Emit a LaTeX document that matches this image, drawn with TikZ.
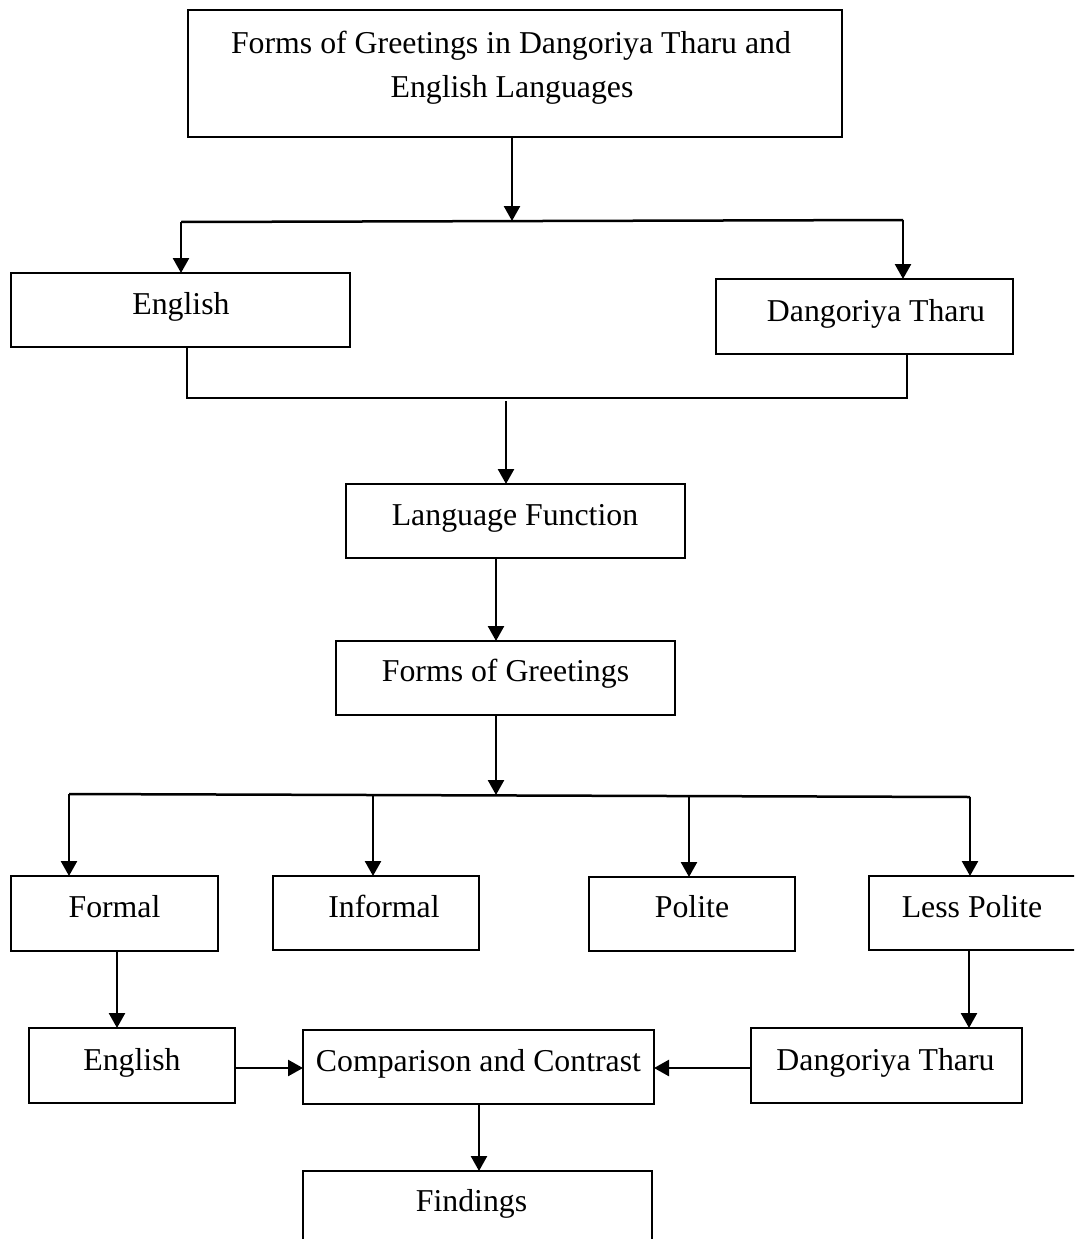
\documentclass[tikz,border=0pt]{standalone}
\usepackage{fontspec}
\setmainfont{Liberation Serif}
\usetikzlibrary{arrows.meta}
\begin{document}
\begin{tikzpicture}[x=1pt,y=-1pt,
  box/.style={draw,line width=2pt,rectangle,inner sep=0pt,outer sep=0pt},
  lbl/.style={inner sep=0pt,anchor=base,font=\fontsize{31.8}{40}\selectfont},
  conn/.style={line width=2.5pt},
  arr/.style={line width=2.5pt,-{Triangle[length=15pt,width=16pt]}}]
\useasboundingbox (0,0) rectangle (1074,1239);
\fill[white] (0,0) rectangle (1074,1239);
\clip (0,0) rectangle (1074,1239);
% boxes
\node[box,minimum width=654pt,minimum height=127pt] (title) at (515,73.5) {};
\node[box,minimum width=339pt,minimum height=74pt] (eng1) at (180.5,310) {};
\node[box,minimum width=297pt,minimum height=75pt] (dt1) at (864.5,316.5) {};
\node[box,minimum width=339pt,minimum height=74pt] (lf) at (515.5,521) {};
\node[box,minimum width=339pt,minimum height=74pt] (fog) at (505.5,678) {};
\node[box,minimum width=207pt,minimum height=75pt] (formal) at (114.5,913.5) {};
\node[box,minimum width=206pt,minimum height=74pt] (informal) at (376,913) {};
\node[box,minimum width=206pt,minimum height=74pt] (polite) at (692,914) {};
\node[box,minimum width=208pt,minimum height=74pt] (lesspol) at (973,913) {};
\node[box,minimum width=206pt,minimum height=75pt] (eng2) at (132,1065.5) {};
\node[box,minimum width=351pt,minimum height=74pt] (cc) at (478.5,1067) {};
\node[box,minimum width=271pt,minimum height=75pt] (dt2) at (886.5,1065.5) {};
\node[box,minimum width=349pt,minimum height=89pt] (find) at (477.5,1215.5) {};
% texts
\node[lbl] (titleA) at (511,53) {Forms of Greetings in Dangoriya Tharu and};
\node[lbl] (titleB) at (512,97) {English Languages};
\node[lbl] (eng1t) at (181,314) {English};
\node[lbl] (dt1t) at (876,321) {Dangoriya Tharu};
\node[lbl] (lft) at (515,525) {Language Function};
\node[lbl] (fogt) at (505.5,681) {Forms of Greetings};
\node[lbl] (formalt) at (114.5,917) {Formal};
\node[lbl] (informalt) at (384,917) {Informal};
\node[lbl] (politet) at (692,917) {Polite};
\node[lbl] (lesspolt) at (972,917) {Less Polite};
\node[lbl] (eng2t) at (132,1070) {English};
\node[lbl] (cct) at (478.5,1071) {Comparison and Contrast};
\node[lbl] (dt2t) at (885.5,1070) {Dangoriya Tharu};
\node[lbl] (findt) at (471.5,1211) {Findings};
% junction coordinates
\coordinate (h1m) at (512,221);
\coordinate (h1l) at (181,222);
\coordinate (h1r) at (903,220);
\coordinate (m1) at (187,398);
\coordinate (m2) at (907,398);
\coordinate (m3) at (506,401);
\coordinate (x2) at (496,0);
\coordinate (h2m) at (496,795);
\coordinate (h2a) at (69,794);
\coordinate (h2b) at (373,795);
\coordinate (h2c) at (689,796);
\coordinate (h2d) at (970,797);
\coordinate (x3) at (117,0);
\coordinate (x4) at (969,0);
\coordinate (yc) at (0,1068);
\coordinate (x5) at (479,0);
% connectors
\draw[arr] (title.south -| h1m) -- (h1m);
\draw[conn] (h1l) -- (h1r);
\draw[arr] (h1l) -- (h1l |- eng1.north);
\draw[arr] (h1r) -- (h1r |- dt1.north);
\draw[conn] (eng1.south -| m1) -- (m1) -- (m2) -- (dt1.south -| m2);
\draw[arr] (m3) -- (m3 |- lf.north);
\draw[arr] (lf.south -| x2) -- (fog.north -| x2);
\draw[arr] (fog.south -| x2) -- (h2m);
\draw[conn] (h2a) -- (h2d);
\draw[arr] (h2a) -- (h2a |- formal.north);
\draw[arr] (h2b) -- (h2b |- informal.north);
\draw[arr] (h2c) -- (h2c |- polite.north);
\draw[arr] (h2d) -- (h2d |- lesspol.north);
\draw[arr] (formal.south -| x3) -- (eng2.north -| x3);
\draw[arr] (lesspol.south -| x4) -- (dt2.north -| x4);
\draw[arr] (eng2.east |- yc) -- (cc.west |- yc);
\draw[arr] (dt2.west |- yc) -- (cc.east |- yc);
\draw[arr] (cc.south -| x5) -- (find.north -| x5);
\end{tikzpicture}
\end{document}
